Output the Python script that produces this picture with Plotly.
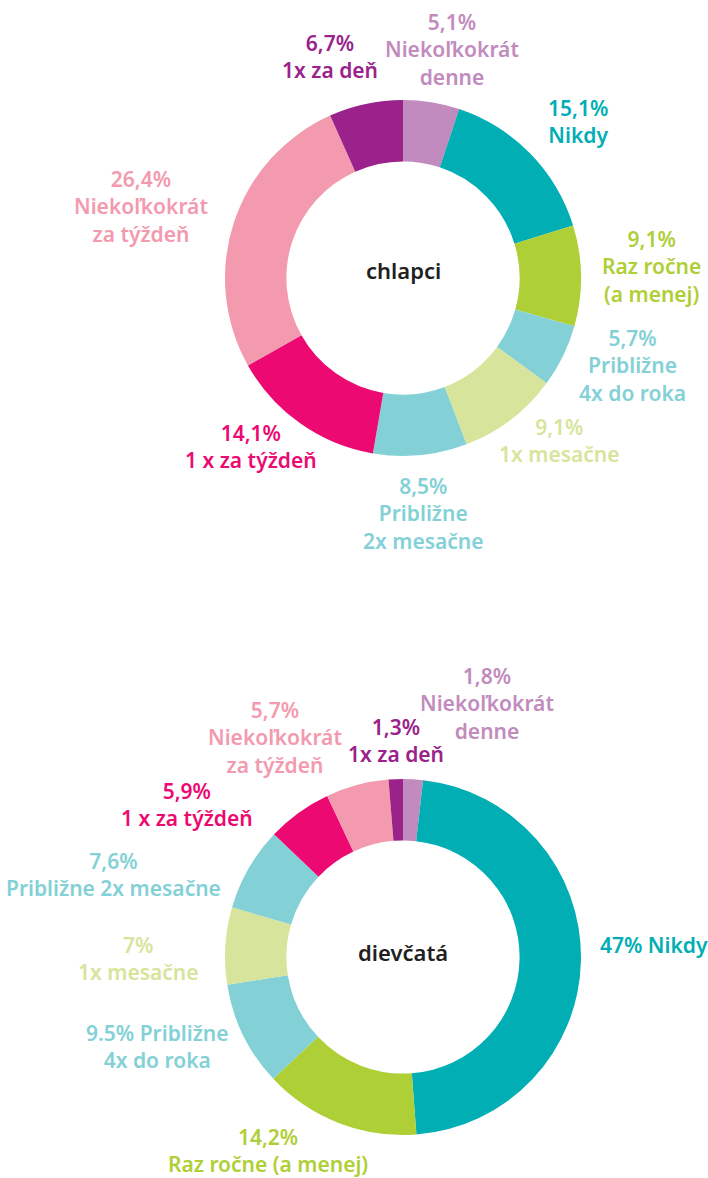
import plotly.graph_objects as go

W, H = 708, 1178

# ---- data ----
boys_labels = ["Niekoľkokrát denne", "Nikdy", "Raz ročne (a menej)", "Približne 4x do roka",
               "1x mesačne", "Približne 2x mesačne", "1 x za týždeň",
               "Niekoľkokrát za týždeň", "1x za deň"]
boys_values = [5.1, 15.1, 9.1, 5.7, 9.1, 8.5, 14.1, 26.4, 6.7]
boys_text = ["5,1%<br>Niekoľkokrát<br>denne", "15,1%<br>Nikdy", "9,1%<br>Raz ročne<br>(a menej)",
             "5,7%<br>Približne<br>4x do roka", "9,1%<br>1x mesačne",
             "8,5%<br>Približne<br>2x mesačne", "14,1%<br>1 x za týždeň",
             "26,4%<br>Niekoľkokrát<br>za týždeň", "6,7%<br>1x za deň"]

girls_labels = boys_labels
girls_values = [1.8, 47, 14.2, 9.5, 7, 7.6, 5.9, 5.7, 1.3]
girls_text = ["1,8%<br>Niekoľkokrát<br>denne", "47% Nikdy", "14,2%<br>Raz ročne (a menej)",
              "9.5% Približne<br>4x do roka", "7%<br>1x mesačne",
              "7,6%<br>Približne 2x mesačne", "5,9%<br>1 x za týždeň",
              "5,7%<br>Niekoľkokrát<br>za týždeň", "1,3%<br>1x za deň"]

titles = ["chlapci", "dievčatá"]

# ---- styles ----
colors = ["#C28BBE", "#00AEB4", "#AFCF37", "#83D1D6", "#D6E59B",
          "#83D1D6", "#EC0A72", "#F39AAE", "#9A228A"]

FONT = "Noto Sans"

# label block centers in pixels (x, y)
boys_pos = [(452, 50), (578, 121), (651, 267), (632, 365), (559, 441),
            (423, 513), (251, 446), (141, 207), (330, 56)]
girls_pos = [(487, 703), (654, 945), (268, 1150), (157, 1046), (138, 958),
             (114, 874), (187, 804), (275, 737), (396, 740)]

def px(x, y):
    return x / W, 1 - y / H

fig = go.Figure()

donuts = [
    (boys_values, boys_labels, (403, 278)),
    (girls_values, girls_labels, (403, 957)),
]
R = 178
for vals, labs, (cx, cy) in donuts:
    x0, y1 = px(cx - R, cy - R)
    x1, y0 = px(cx + R, cy + R)
    fig.add_trace(go.Pie(
        values=vals, labels=labs, hole=0.655, sort=False, direction="clockwise",
        rotation=0, textinfo="none", hoverinfo="label+percent",
        marker=dict(colors=colors, line=dict(width=0)),
        domain=dict(x=[x0, x1], y=[y0, y1]), showlegend=False,
    ))

annotations = []
for texts, poss in [(boys_text, boys_pos), (girls_text, girls_pos)]:
    for t, (x, y), c in zip(texts, poss, colors):
        ax, ay = px(x, y)
        annotations.append(dict(
            x=ax, y=ay, xref="paper", yref="paper", text=t, showarrow=False,
            xanchor="center", yanchor="middle", align="center",
            font=dict(family=FONT, size=21, color=c, weight=600),
        ))
for t, (cx, cy) in zip(titles, [(403, 270), (403, 952)]):
    ax, ay = px(cx, cy)
    annotations.append(dict(
        x=ax, y=ay, xref="paper", yref="paper", text=t, showarrow=False,
        xanchor="center", yanchor="middle",
        font=dict(family=FONT, size=22, color="#231F20", weight=600),
    ))

fig.update_layout(
    width=W, height=H, autosize=False,
    margin=dict(l=0, r=0, t=0, b=0),
    paper_bgcolor="white", plot_bgcolor="white",
    annotations=annotations,
)

fig.write_html("out.html", config={"displayModeBar": False},
               post_script="document.body.style.margin='0';")
